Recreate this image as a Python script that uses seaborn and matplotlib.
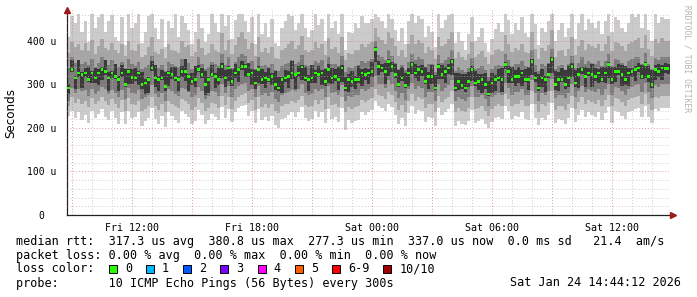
import numpy as np
import matplotlib
matplotlib.use("Agg")
import matplotlib.pyplot as plt
import matplotlib.transforms as mtransforms
from matplotlib.patches import Rectangle
import seaborn as sns

# ---------------- data (microseconds), one step = 10 minutes from Fri 08:45 ----------------
start_hour = 8.75          # hours since Fri 00:00
step_hours = 1.0 / 6.0

median = [
    292, 335, 315, 326, 322, 326, 311, 326, 315, 326,
    335, 330, 315, 326, 318, 311, 326, 300, 330, 316,
    315, 326, 300, 303, 311, 338, 315, 311, 315, 296,
    326, 322, 315, 311, 330, 330, 318, 307, 311, 335,
    322, 300, 311, 322, 318, 311, 342, 315, 338, 307,
    326, 335, 342, 342, 322, 326, 303, 335, 311, 315,
    311, 318, 300, 292, 311, 315, 318, 326, 322, 326,
    340, 315, 311, 315, 326, 322, 326, 307, 335, 315,
    318, 311, 338, 292, 311, 307, 311, 311, 326, 322,
    326, 330, 381, 342, 338, 330, 353, 342, 322, 300,
    315, 297, 326, 345, 326, 335, 330, 307, 318, 318,
    292, 342, 322, 330, 338, 353, 292, 307, 297, 292,
    307, 335, 303, 307, 311, 300, 278, 303, 311, 315,
    311, 345, 330, 311, 318, 318, 326, 311, 311, 353,
    315, 292, 315, 311, 322, 357, 300, 311, 311, 300,
    315, 342, 303, 322, 335, 318, 326, 322, 318, 326,
    311, 326, 345, 311, 330, 330, 322, 311, 326, 330,
    335, 338, 318, 345, 318, 300, 335, 330, 338, 337,
    337,
]

# innermost smoke layer (darkest)
core_hi = [
    300, 355, 320, 356, 328, 338, 339, 330, 337, 336,
    341, 355, 329, 330, 348, 320, 344, 335, 335, 336,
    337, 331, 328, 313, 317, 353, 345, 319, 333, 328,
    330, 340, 340, 319, 342, 358, 324, 327, 343, 345,
    337, 330, 317, 344, 327, 337, 350, 333, 343, 335,
    346, 341, 354, 346, 350, 336, 333, 342, 336, 329,
    337, 326, 330, 316, 317, 333, 330, 354, 327, 342,
    345, 339, 321, 345, 334, 342, 332, 335, 347, 337,
    336, 341, 344, 318, 323, 331, 319, 343, 336, 337,
    336, 352, 387, 354, 346, 350, 358, 352, 348, 334,
    339, 327, 338, 351, 346, 343, 344, 339, 328, 344,
    322, 348, 344, 340, 346, 358, 326, 327, 325, 324,
    329, 343, 331, 325, 323, 326, 308, 327, 321, 335,
    337, 351, 342, 341, 334, 340, 334, 335, 339, 358,
    329, 324, 335, 319, 346, 363, 330, 329, 337, 334,
    343, 350, 333, 338, 341, 340, 338, 348, 338, 336,
    341, 340, 351, 339, 340, 348, 344, 343, 338, 338,
    343, 350, 344, 351, 342, 332, 345, 348, 344, 349,
    347,
]
core_lo = [
    278, 329, 290, 316, 292, 318, 306, 304, 303, 298,
    311, 322, 285, 314, 312, 285, 316, 295, 302, 302,
    309, 298, 290, 279, 281, 330, 295, 285, 310, 284,
    296, 312, 309, 285, 316, 308, 286, 299, 293, 329,
    314, 276, 281, 317, 292, 299, 314, 295, 308, 297,
    314, 305, 334, 316, 316, 298, 289, 303, 301, 291,
    305, 298, 288, 284, 281, 305, 292, 312, 290, 318,
    310, 307, 285, 303, 304, 316, 298, 297, 303, 301,
    308, 287, 306, 286, 283, 293, 289, 303, 296, 310,
    300, 318, 351, 322, 328, 302, 319, 328, 314, 294,
    307, 291, 296, 323, 314, 309, 320, 302, 290, 302,
    287, 312, 312, 304, 324, 321, 286, 287, 289, 282,
    295, 307, 297, 287, 281, 290, 273, 281, 285, 307,
    283, 335, 304, 303, 296, 304, 296, 305, 287, 321,
    305, 286, 293, 283, 314, 327, 288, 285, 305, 290,
    295, 316, 295, 292, 323, 294, 320, 294, 308, 304,
    305, 304, 315, 301, 306, 322, 296, 299, 296, 316,
    309, 328, 312, 315, 306, 292, 311, 316, 310, 327,
    325,
]
# third layer (dark grey)
inner_hi = [
    338, 362, 350, 355, 348, 352, 345, 358, 340, 350,
    362, 350, 345, 356, 345, 340, 352, 338, 358, 346,
    342, 352, 336, 340, 345, 365, 340, 338, 344, 330,
    352, 348, 342, 340, 358, 354, 350, 336, 342, 362,
    348, 336, 340, 352, 346, 342, 370, 345, 362, 338,
    352, 362, 370, 366, 350, 354, 336, 362, 342, 345,
    340, 348, 332, 330, 342, 346, 350, 356, 348, 352,
    368, 345, 342, 344, 354, 350, 356, 338, 362, 346,
    348, 342, 365, 328, 340, 338, 342, 344, 354, 350,
    354, 358, 400, 368, 362, 356, 378, 366, 350, 336,
    345, 334, 352, 370, 355, 362, 358, 340, 348, 346,
    328, 368, 350, 356, 362, 378, 330, 340, 332, 328,
    338, 360, 336, 338, 342, 332, 318, 336, 342, 345,
    342, 370, 356, 342, 348, 346, 354, 342, 340, 378,
    345, 330, 346, 342, 350, 382, 336, 342, 344, 334,
    346, 366, 338, 350, 362, 346, 354, 350, 348, 354,
    342, 354, 370, 342, 358, 356, 350, 342, 354, 358,
    362, 364, 348, 372, 346, 336, 360, 356, 364, 362,
    362,
]
inner_lo = [
    262, 292, 280, 290, 284, 288, 274, 290, 278, 286,
    295, 290, 278, 288, 280, 272, 288, 266, 292, 280,
    278, 288, 266, 270, 275, 298, 278, 272, 280, 262,
    290, 284, 278, 274, 292, 290, 282, 270, 276, 294,
    286, 266, 274, 284, 282, 274, 300, 280, 296, 272,
    290, 296, 302, 304, 286, 290, 270, 296, 276, 280,
    274, 282, 266, 260, 276, 280, 282, 288, 284, 290,
    300, 280, 276, 278, 290, 284, 290, 272, 296, 280,
    282, 276, 298, 262, 274, 272, 276, 276, 290, 286,
    290, 294, 320, 302, 300, 292, 310, 302, 286, 268,
    280, 264, 290, 304, 290, 296, 292, 272, 282, 282,
    262, 300, 286, 292, 298, 310, 262, 272, 266, 262,
    272, 296, 270, 272, 276, 266, 250, 270, 276, 280,
    276, 304, 292, 276, 282, 282, 290, 276, 276, 310,
    280, 262, 280, 276, 286, 312, 268, 276, 276, 268,
    280, 300, 270, 286, 296, 282, 290, 286, 282, 290,
    276, 290, 302, 276, 294, 292, 286, 276, 290, 294,
    298, 300, 282, 304, 282, 268, 298, 294, 300, 300,
    300,
]
# second layer (medium grey)
mid_hi = [
    372, 398, 385, 392, 380, 395, 376, 402, 370, 388,
    405, 384, 378, 396, 380, 372, 392, 366, 400, 380,
    376, 394, 362, 368, 386, 410, 374, 370, 382, 360,
    392, 380, 376, 372, 400, 386, 390, 366, 374, 405,
    384, 368, 372, 392, 380, 374, 418, 380, 402, 370,
    390, 410, 420, 404, 382, 396, 366, 408, 374, 384,
    372, 386, 360, 358, 378, 384, 392, 400, 382, 390,
    412, 380, 374, 380, 398, 384, 394, 368, 406, 382,
    386, 372, 408, 356, 372, 370, 378, 380, 394, 386,
    392, 398, 430, 410, 402, 392, 420, 406, 388, 366,
    380, 362, 392, 414, 392, 402, 396, 372, 386, 380,
    358, 410, 388, 394, 404, 420, 360, 374, 362, 356,
    370, 398, 364, 370, 376, 362, 346, 368, 378, 382,
    376, 414, 394, 374, 384, 380, 392, 374, 372, 420,
    382, 358, 384, 376, 390, 424, 364, 376, 380, 366,
    382, 408, 368, 388, 402, 380, 394, 388, 384, 392,
    376, 392, 412, 376, 398, 396, 388, 376, 392, 398,
    402, 406, 384, 414, 382, 366, 404, 396, 406, 400,
    400,
]
mid_lo = [
    250, 270, 258, 266, 256, 262, 248, 268, 254, 262,
    272, 262, 252, 266, 256, 246, 264, 240, 268, 254,
    252, 262, 238, 244, 250, 272, 250, 242, 254, 236,
    262, 256, 250, 246, 266, 262, 256, 242, 248, 268,
    258, 240, 246, 258, 254, 246, 274, 252, 270, 244,
    262, 270, 276, 280, 258, 264, 242, 270, 248, 254,
    246, 256, 238, 234, 250, 254, 256, 262, 258, 264,
    274, 252, 248, 250, 264, 256, 264, 244, 270, 252,
    256, 248, 272, 236, 248, 244, 248, 250, 264, 260,
    264, 268, 290, 276, 274, 266, 282, 276, 260, 242,
    252, 236, 262, 278, 262, 270, 266, 246, 256, 254,
    236, 274, 260, 266, 272, 284, 236, 246, 240, 236,
    246, 270, 244, 246, 250, 240, 228, 244, 250, 254,
    250, 278, 266, 250, 256, 256, 264, 250, 250, 284,
    254, 236, 254, 250, 260, 286, 242, 250, 250, 242,
    254, 274, 244, 260, 270, 256, 264, 260, 256, 264,
    250, 264, 276, 250, 268, 266, 260, 250, 264, 268,
    272, 274, 256, 278, 256, 242, 272, 268, 274, 274,
    274,
]
# outermost layer (light grey): min / max ping
outer_hi = [
    410, 458, 440, 462, 420, 446, 398, 462, 430, 455,
    462, 420, 445, 460, 410, 400, 455, 390, 462, 430,
    440, 462, 395, 420, 458, 462, 430, 405, 450, 385,
    445, 430, 462, 410, 458, 440, 425, 392, 420, 462,
    430, 398, 415, 462, 440, 420, 462, 435, 460, 405,
    448, 462, 462, 445, 420, 455, 392, 462, 415, 440,
    410, 450, 396, 388, 430, 445, 462, 458, 425, 440,
    462, 430, 410, 425, 462, 436, 450, 400, 462, 430,
    445, 415, 462, 380, 420, 418, 440, 430, 458, 440,
    440, 450, 462, 455, 445, 430, 462, 450, 425, 400,
    430, 392, 445, 462, 440, 458, 450, 410, 435, 420,
    385, 462, 430, 448, 460, 462, 395, 420, 400, 380,
    415, 455, 400, 410, 430, 395, 375, 405, 428, 440,
    420, 462, 448, 415, 440, 425, 455, 418, 410, 462,
    438, 390, 430, 420, 445, 462, 400, 425, 440, 410,
    430, 462, 405, 440, 462, 425, 450, 440, 430, 445,
    415, 445, 462, 420, 455, 448, 430, 420, 440, 462,
    455, 462, 430, 462, 425, 400, 462, 440, 455, 450,
    450,
]
outer_lo = [
    228, 240, 222, 236, 218, 230, 212, 238, 224, 232,
    244, 226, 218, 238, 224, 210, 236, 208, 240, 222,
    226, 236, 204, 215, 222, 245, 220, 210, 228, 202,
    236, 228, 218, 212, 240, 232, 226, 208, 216, 242,
    230, 210, 218, 232, 226, 218, 248, 224, 244, 214,
    236, 246, 250, 252, 228, 238, 212, 244, 218, 226,
    216, 228, 206, 200, 220, 224, 230, 236, 226, 236,
    248, 222, 216, 220, 238, 226, 236, 212, 244, 220,
    226, 214, 246, 195, 218, 212, 216, 218, 236, 230,
    236, 242, 262, 250, 246, 238, 254, 248, 230, 210,
    222, 204, 234, 250, 232, 242, 238, 214, 226, 224,
    204, 246, 230, 236, 244, 256, 205, 216, 210, 206,
    216, 242, 212, 216, 220, 208, 200, 214, 222, 226,
    220, 250, 238, 220, 228, 226, 236, 220, 218, 256,
    224, 206, 224, 218, 230, 258, 212, 220, 218, 210,
    222, 246, 214, 230, 242, 226, 236, 230, 226, 236,
    218, 234, 248, 212, 238, 236, 228, 220, 236, 240,
    244, 246, 226, 250, 226, 212, 244, 238, 246, 246,
    246,
]

y_ticks = [0, 100, 200, 300, 400]
y_tick_labels = ["0", "100 u", "200 u", "300 u", "400 u"]
x_label_hours = [12, 18, 24, 30, 36]
x_tick_labels = ["Fri 12:00", "Fri 18:00", "Sat 00:00", "Sat 06:00", "Sat 12:00"]

loss_labels = ["0", "1", "2", "3", "4", "5", "6-9", "10/10"]
loss_colors = ["#26ff00", "#00b8ff", "#0059ff", "#7e00ff", "#ff00ff", "#ff5e00", "#ff0000", "#a10000"]

legend_lines = [
    "median rtt:  317.3 us avg  380.8 us max  277.3 us min  337.0 us now  0.0 ms sd   21.4  am/s",
    "packet loss: 0.00 % avg  0.00 % max  0.00 % min  0.00 % now",
    "loss color:",
    "probe:       10 ICMP Echo Pings (56 Bytes) every 300s",
]
stamp = "Sat Jan 24 14:44:12 2026"
watermark = "RRDTOOL / TOBI OETIKER"

# ---------------- drawing ----------------
sns.set_style("white")
plt.rcParams["font.family"] = ["DejaVu Sans Mono", "DejaVu Sans"]

W, H = 697, 297
fig = plt.figure(figsize=(W / 100, H / 100), dpi=100)
fig.patch.set_facecolor("white")
ax = fig.add_axes([67 / W, 82 / H, 602 / W, 205 / H])
ax.set_facecolor("white")

n = len(median)
edges = start_hour + step_hours * np.arange(n + 1)
centers = start_hour + step_hours * (np.arange(n) + 0.5)

layers = [
    (outer_lo, outer_hi, "#cbcbcb"),
    (mid_lo, mid_hi, "#a6a6a6"),
    (inner_lo, inner_hi, "#7c7c7c"),
    (core_lo, core_hi, "#3a3a3a"),
]
for lo, hi, col in layers:
    lo = np.asarray(lo, float)
    hi = np.asarray(hi, float)
    ax.fill_between(edges, np.append(lo, lo[-1]), np.append(hi, hi[-1]),
                    step="post", color=col, linewidth=0, zorder=1)

sns.scatterplot(x=centers, y=np.asarray(median, float), ax=ax, marker="s", s=3.8,
                color=loss_colors[0], edgecolor="none", linewidth=0, legend=False, zorder=4)

ax.set_xlim(start_hour, start_hour + 602 / 20)
ax.set_ylim(0, 471)

major_x = np.arange(9, 39, 3)
ax.set_xticks(major_x)
lab_map = dict(zip(x_label_hours, x_tick_labels))
ax.set_xticklabels([lab_map.get(int(h), "") for h in major_x])
ax.set_xticks(np.arange(9, 39, 1), minor=True)
ax.set_yticks(y_ticks)
ax.set_yticklabels(y_tick_labels)
ax.set_yticks(np.arange(0, 471, 20), minor=True)

ax.set_axisbelow(False)
ax.grid(which="minor", color="#b8b8b8", linestyle=(0, (1, 2)), linewidth=0.7, alpha=0.7)
ax.grid(which="major", color="#d87070", linestyle=(0, (1, 2)), linewidth=0.7, alpha=0.7)

ax.tick_params(axis="both", which="minor", length=0)
ax.tick_params(axis="y", which="major", length=3, width=0.8, pad=4.5, labelsize=7, colors="#000000")
ax.tick_params(axis="x", which="major", length=3, width=0.8, pad=2.5, labelsize=7.2, colors="#000000")
for lab in ax.get_xticklabels() + ax.get_yticklabels():
    lab.set_fontfamily("DejaVu Sans Mono")

for s in ("top", "right"):
    ax.spines[s].set_visible(False)
for s in ("left", "bottom"):
    ax.spines[s].set_color("#202020")
    ax.spines[s].set_linewidth(0.9)

# shift "0" label so numerals line up with the "u"-suffixed labels
fig.canvas.draw()
for lab in ax.get_yticklabels():
    if lab.get_text() == "0":
        lab.set_transform(lab.get_transform() + mtransforms.ScaledTranslation(-0.12, 0, fig.dpi_scale_trans))

# axis arrows
ax.plot([0], [1.0], marker="^", markersize=4.5, color="#9b1b1b", transform=ax.transAxes, clip_on=False, zorder=6)
ax.plot([1.006], [0], marker=">", markersize=4.5, color="#9b1b1b", transform=ax.transAxes, clip_on=False, zorder=6)

# y label and watermark
fig.text(11 / W, 1 - 113 / H, "Seconds", rotation=90, ha="center", va="center",
         fontsize=8.6, family="DejaVu Sans", color="#000000")
fig.text(687 / W, 1 - 59 / H, watermark, rotation=270, ha="center", va="center",
         fontsize=5.8, color="#b4b4b4", family="DejaVu Sans Mono")

# legend block
cw = 7.15
ys = [241, 255, 269, 283]
for txt, yy in zip(legend_lines, ys):
    fig.text(16 / W, 1 - yy / H, txt, ha="left", va="center", fontsize=8.5,
             family="DejaVu Sans Mono", color="#000000")
fig.text(681 / W, 1 - 283 / H, stamp, ha="right", va="center", fontsize=8.5,
         family="DejaVu Sans Mono", color="#000000")

bx = 16 + 13 * cw
for lbl, col in zip(loss_labels, loss_colors):
    fig.add_artist(Rectangle((bx / W, 1 - (269 + 4) / H), 8 / W, 8 / H, transform=fig.transFigure,
                             facecolor=col, edgecolor="#000000", linewidth=0.7))
    fig.text((bx + 16) / W, 1 - 269 / H, lbl, ha="left", va="center", fontsize=8.5,
             family="DejaVu Sans Mono", color="#000000")
    bx = bx + 16 + len(lbl) * cw + 14

fig.savefig("out.png", dpi=100, facecolor="white")
